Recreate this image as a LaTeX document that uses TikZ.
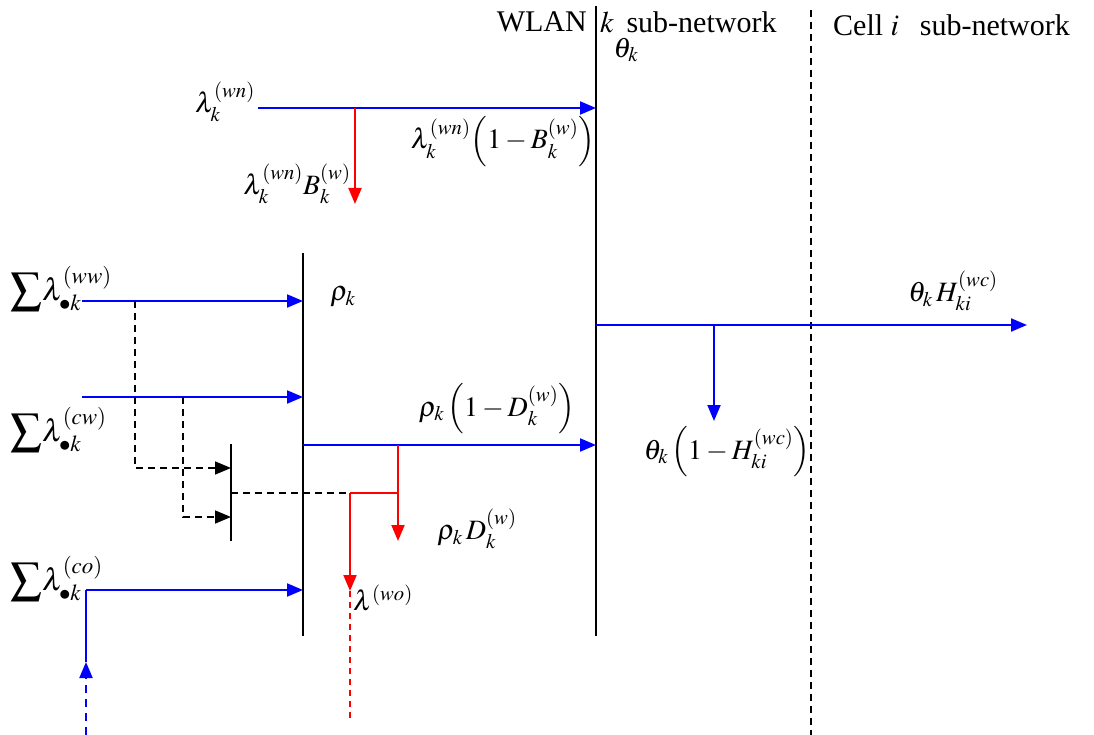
\documentclass[tikz,border=0pt]{standalone}
\usepackage{mathptmx}
\usepackage[no-math]{fontspec}
\setmainfont{Liberation Serif}
\usetikzlibrary{arrows.meta}
\begin{document}
\begin{tikzpicture}[x=1pt,y=-1pt,
  bl/.style={blue, line width=2pt},
  rd/.style={red, line width=2pt},
  bar/.style={black, line width=2pt},
  dsh/.style={black, line width=1.6pt, dash pattern=on 7pt off 5pt},
  tip/.style={-{Triangle[length=16pt,width=13pt]}},
  lab/.style={inner sep=0pt, font=\fontsize{28}{32}\selectfont},
  sumlab/.style={inner sep=0pt, anchor=west, font=\fontsize{31}{35}\selectfont},
  hdr/.style={inner sep=0pt, font=\fontsize{30}{34}\selectfont}]
\useasboundingbox (0,0) rectangle (1094,735);
% bars
\coordinate (wT) at (596,6); \coordinate (wB) at (596,636);
\coordinate (cT) at (811,10); \coordinate (cB) at (811,735);
\coordinate (rT) at (303,253); \coordinate (rB) at (303,636);
\coordinate (mT) at (231,444); \coordinate (mB) at (231,541);
\draw[bar] (wT) -- (wB);
\draw[bar] (rT) -- (rB);
\draw[bar] (mT) -- (mB);
\draw[black, line width=1.6pt, dash pattern=on 7pt off 5pt] (cT) -- (cB);
% header
\node[hdr, anchor=east] (wlan) at (587,22) {WLAN};
\node[hdr, anchor=west] (ksub) at (600,22) {$k$\, sub-network};
\node[hdr, anchor=west] (cell) at (833,25) {Cell $i$\;\, sub-network};
\node[lab] (theta) at (626,50) {$\theta_k$};
% WLAN arrival
\coordinate (a1s) at (258,108); \coordinate (a1e) at (596,108);
\coordinate (a1b) at (355,108); \coordinate (a1d) at (355,204);
\draw[bl, tip] (a1s) -- (a1e);
\draw[rd, tip] (a1b) -- (a1d);
\node[lab] (lwn) at (225,102) {$\lambda_k^{(wn)}$};
\node[lab] (lwnB) at (297,184) {$\lambda_k^{(wn)}B_k^{(w)}$};
\node[lab] (lwn1B) at (503,142) {$\lambda_k^{(wn)}\Bigl(1-B_k^{(w)}\Bigr)$};
% sums
\coordinate (s1s) at (82,301); \coordinate (s1e) at (303,301);
\coordinate (s2s) at (82,397); \coordinate (s2e) at (303,397);
\coordinate (s3s) at (86,590); \coordinate (s3e) at (303,590);
\draw[bl, tip] (s1s) -- (s1e);
\draw[bl, tip] (s2s) -- (s2e);
\draw[bl, tip] (s3s) -- (s3e);
\node[sumlab] (sww) at (10,289) {$\displaystyle\sum\!\lambda_{\bullet k}^{(ww)}$};
\node[sumlab] (scw) at (10,430) {$\displaystyle\sum\!\lambda_{\bullet k}^{(cw)}$};
\node[sumlab] (sco) at (10,579) {$\displaystyle\sum\!\lambda_{\bullet k}^{(co)}$};
\node[lab] (rho) at (343,297) {$\rho_k$};
% dashed to small bar
\coordinate (d1a) at (135,301); \coordinate (d1b) at (135,468); \coordinate (d1c) at (231,468);
\coordinate (d2a) at (183,397); \coordinate (d2b) at (183,517); \coordinate (d2c) at (231,517);
\draw[dsh, -{Triangle[length=16pt,width=13pt]}] (d1a) -- (d1b) -- (d1c);
\draw[dsh, -{Triangle[length=16pt,width=13pt]}] (d2a) -- (d2b) -- (d2c);
% bottom-left incoming
\coordinate (u1) at (86,735); \coordinate (u2) at (86,662);
\draw[blue, line width=2pt, dash pattern=on 8pt off 6pt, tip] (u1) -- (u2);
\draw[bl] (u2) -- (s3s);
% rho output
\coordinate (r1s) at (303,445); \coordinate (r1e) at (596,445);
\coordinate (r1b) at (398,445); \coordinate (r1d) at (398,541);
\draw[bl, tip] (r1s) -- (r1e);
\draw[rd, tip] (r1b) -- (r1d);
\coordinate (m1) at (231,493); \coordinate (m2) at (350,493); \coordinate (m3) at (398,493);
\coordinate (m4) at (350,591); \coordinate (m5) at (350,722);
\draw[dsh] (m1) -- (m2);
\draw[red, line width=1.5pt] (m2) -- (m3);
\draw[rd, tip] (m2) -- (m4);
\draw[red, line width=1.5pt, dash pattern=on 6pt off 5pt] (m4) -- (m5);
\node[lab] (r1D) at (497,409) {$\rho_k\,\Bigl(1-D_k^{(w)}\Bigr)$};
\node[lab] (rD) at (477,529) {$\rho_k\, D_k^{(w)}$};
\node[lab] (lwo) at (383,598) {$\lambda^{(wo)}$};
% theta output
\coordinate (t1s) at (596,325); \coordinate (t1e) at (1027,325);
\coordinate (t1b) at (714,325); \coordinate (t1d) at (714,421);
\draw[bl, tip] (t1s) -- (t1e);
\draw[bl, tip] (t1b) -- (t1d);
\node[lab] (tH) at (953,291) {$\theta_k\, H_{ki}^{(wc)}$};
\node[lab] (t1H) at (727,452) {$\theta_k\,\Bigl(1-H_{ki}^{(wc)}\Bigr)$};
\end{tikzpicture}
\end{document}
